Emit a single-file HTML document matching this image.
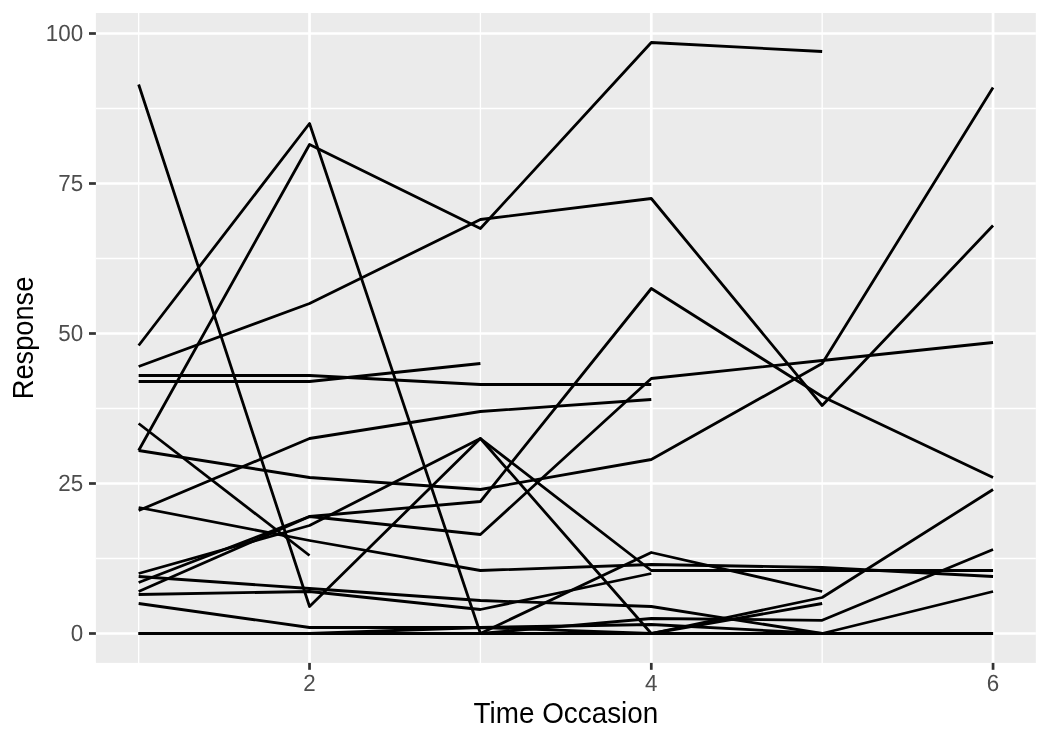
<!DOCTYPE html>
<html><head><meta charset="utf-8"><title>Plot</title>
<style>
html,body{margin:0;padding:0;background:#fff;}
body{width:1048px;height:743px;overflow:hidden;}
svg{display:block;will-change:transform;}
text{font-family:"Liberation Sans",sans-serif;}
</style></head><body>
<svg width="1048" height="743" viewBox="0 0 1048 743">
<rect x="0" y="0" width="1048" height="743" fill="#ffffff"/>
<rect x="95.9" y="13.0" width="939.95" height="649.90" fill="#EBEBEB"/>
<g stroke="#ffffff" stroke-width="1.360" fill="none">
<line x1="95.9" x2="1035.85" y1="558.50" y2="558.50"/>
<line x1="95.9" x2="1035.85" y1="408.50" y2="408.50"/>
<line x1="95.9" x2="1035.85" y1="258.50" y2="258.50"/>
<line x1="95.9" x2="1035.85" y1="108.50" y2="108.50"/>
<line x1="138.65" x2="138.65" y1="13.0" y2="662.9"/>
<line x1="480.41" x2="480.41" y1="13.0" y2="662.9"/>
<line x1="822.17" x2="822.17" y1="13.0" y2="662.9"/>
</g>
<g stroke="#ffffff" stroke-width="2.72" fill="none">
<line x1="95.9" x2="1035.85" y1="633.50" y2="633.50"/>
<line x1="95.9" x2="1035.85" y1="483.50" y2="483.50"/>
<line x1="95.9" x2="1035.85" y1="333.50" y2="333.50"/>
<line x1="95.9" x2="1035.85" y1="183.50" y2="183.50"/>
<line x1="95.9" x2="1035.85" y1="33.50" y2="33.50"/>
<line x1="309.53" x2="309.53" y1="13.0" y2="662.9"/>
<line x1="651.29" x2="651.29" y1="13.0" y2="662.9"/>
<line x1="993.05" x2="993.05" y1="13.0" y2="662.9"/>
</g>
<g stroke="#000000" stroke-width="2.8" fill="none" stroke-linejoin="round" stroke-linecap="butt">
<polyline points="138.65,84.50 309.53,606.50 480.41,438.50 651.29,570.50 822.17,570.50 993.05,570.50"/>
<polyline points="138.65,345.50 309.53,123.50 480.41,633.50 651.29,552.50 822.17,591.50"/>
<polyline points="138.65,450.50 309.53,144.50 480.41,228.50 651.29,42.50 822.17,51.50"/>
<polyline points="138.65,366.50 309.53,303.50 480.41,219.50 651.29,198.50 822.17,405.50 993.05,225.50"/>
<polyline points="138.65,375.50 309.53,375.50 480.41,384.50 651.29,384.50"/>
<polyline points="138.65,381.50 309.53,381.50 480.41,363.50"/>
<polyline points="138.65,423.50 309.53,555.50"/>
<polyline points="138.65,450.50 309.53,477.50 480.41,489.50 651.29,459.50 822.17,363.50 993.05,87.50"/>
<polyline points="138.65,510.50 309.53,438.50 480.41,411.50 651.29,399.50"/>
<polyline points="138.65,507.50 309.53,540.50 480.41,570.50 651.29,564.50 822.17,567.50 993.05,576.50"/>
<polyline points="138.65,591.50 309.53,516.50 480.41,534.50 651.29,378.50 822.17,360.50 993.05,342.50"/>
<polyline points="138.65,582.50 309.53,516.50 480.41,501.50 651.29,288.50 822.17,396.50 993.05,477.50"/>
<polyline points="138.65,573.50 309.53,525.50 480.41,438.50 651.29,633.50 822.17,597.50 993.05,489.50"/>
<polyline points="138.65,576.50 309.53,588.50 480.41,600.50 651.29,606.50 822.17,633.50 993.05,633.50"/>
<polyline points="138.65,594.50 309.53,591.50 480.41,609.50 651.29,573.50"/>
<polyline points="138.65,603.50 309.53,627.50 480.41,627.50 651.29,624.50 822.17,633.50 993.05,591.50"/>
<polyline points="138.65,633.50 309.53,633.50 480.41,633.50 651.29,633.50 822.17,633.50 993.05,633.50"/>
<polyline points="138.65,633.50 309.53,633.50 480.41,633.50 651.29,618.50 822.17,620.30 993.05,549.50"/>
<polyline points="138.65,633.50 309.53,633.50 480.41,627.50 651.29,633.50 822.17,603.50"/>
</g>
<g stroke="#333333" stroke-width="2.72" fill="none">
<line x1="89.00" x2="95.9" y1="633.50" y2="633.50"/>
<line x1="89.00" x2="95.9" y1="483.50" y2="483.50"/>
<line x1="89.00" x2="95.9" y1="333.50" y2="333.50"/>
<line x1="89.00" x2="95.9" y1="183.50" y2="183.50"/>
<line x1="89.00" x2="95.9" y1="33.50" y2="33.50"/>
<line x1="309.53" x2="309.53" y1="662.9" y2="669.80"/>
<line x1="651.29" x2="651.29" y1="662.9" y2="669.80"/>
<line x1="993.05" x2="993.05" y1="662.9" y2="669.80"/>
</g>
<g fill="#4D4D4D" font-size="22.4px">
<text transform="translate(83.2,641.00) rotate(0.05) scale(1,1.045)" text-anchor="end">0</text>
<text transform="translate(83.2,491.00) rotate(0.05) scale(1,1.045)" text-anchor="end">25</text>
<text transform="translate(83.2,341.00) rotate(0.05) scale(1,1.045)" text-anchor="end">50</text>
<text transform="translate(83.2,191.00) rotate(0.05) scale(1,1.045)" text-anchor="end">75</text>
<text transform="translate(83.2,41.00) rotate(0.05) scale(1,1.045)" text-anchor="end">100</text>
<text transform="translate(309.53,691) rotate(0.05) scale(1,1.045)" text-anchor="middle">2</text>
<text transform="translate(651.29,691) rotate(0.05) scale(1,1.045)" text-anchor="middle">4</text>
<text transform="translate(993.05,691) rotate(0.05) scale(1,1.045)" text-anchor="middle">6</text>
</g>
<g fill="#000000" font-size="28px">
<text transform="translate(565.88,722.8) scale(1,1.035)" text-anchor="middle" textLength="184.7" lengthAdjust="spacingAndGlyphs">Time Occasion</text>
<text transform="translate(33.3,337.95) rotate(-90) scale(1,1.035)" text-anchor="middle" textLength="122.5" lengthAdjust="spacingAndGlyphs">Response</text>
</g>
</svg>
</body></html>
